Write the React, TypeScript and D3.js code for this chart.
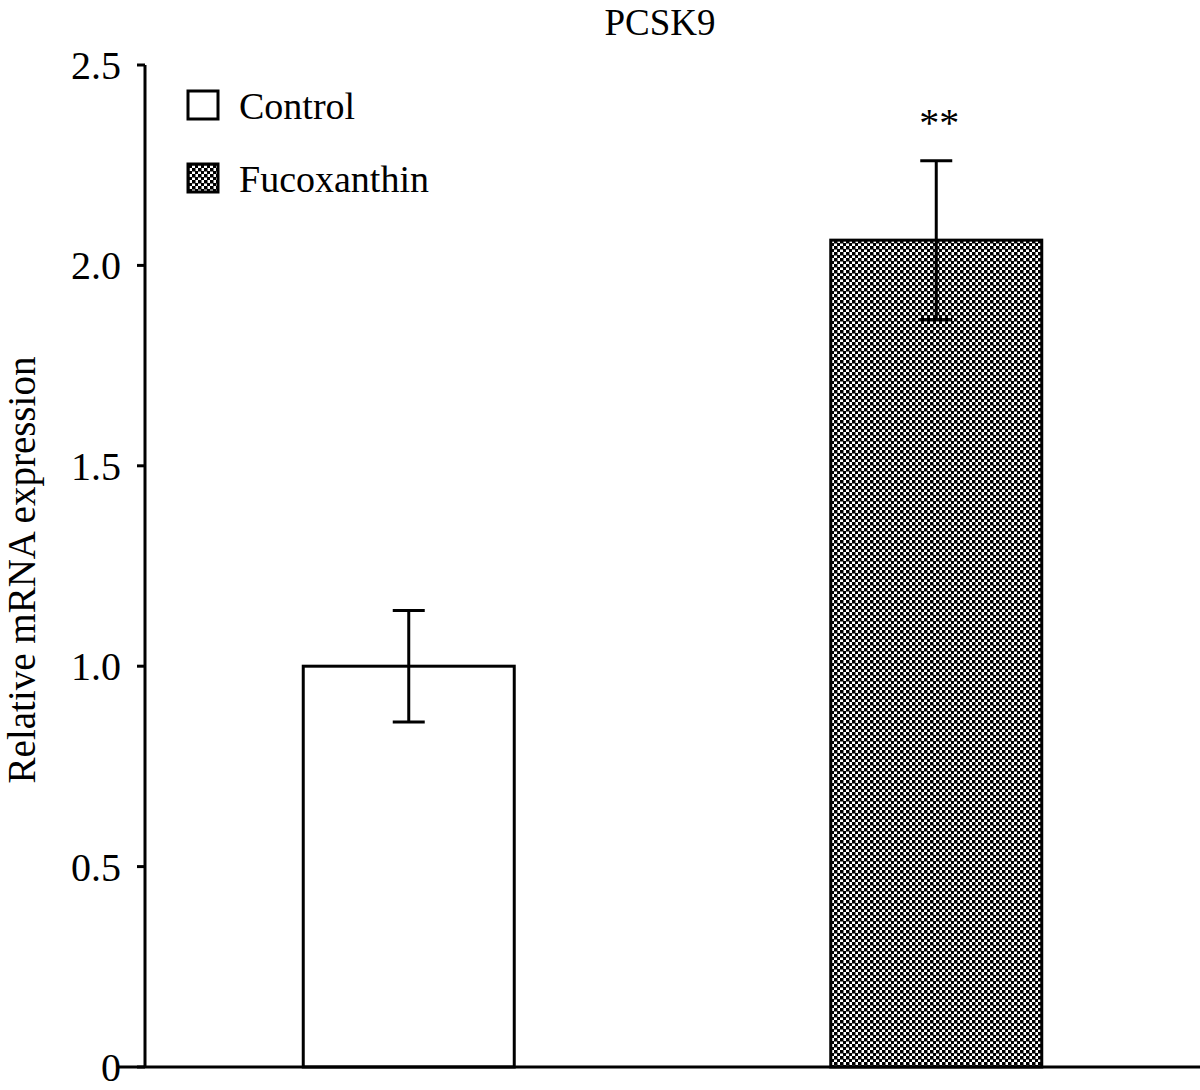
import React from "react";
import * as d3 from "d3";

const categories = ["Control", "Fucoxanthin"];
const values = [1.0, 2.063];
const errors = [0.139, 0.198];
const yTicks = [0, 0.5, 1.0, 1.5, 2.0, 2.5];
const yTickLabels = ["0", "0.5", "1.0", "1.5", "2.0", "2.5"];
const significance = ["", "**"];

export default function App() {
  const W = 1200, H = 1090;
  const y = d3.scaleLinear().domain([0, 2.5]).range([1067, 65]);
  const x = d3.scaleBand().domain(categories).range([145, 1200]).paddingInner(0.6).paddingOuter(0.3);
  const font = "Liberation Serif, Times New Roman, serif";
  const fills = ["#fff", "url(#checker)"];
  return (
    <svg width={W} height={H} style={{ position: "absolute", left: 0, top: 0, background: "#fff" }}>
      <defs>
        <pattern id="checker" width={6} height={6} patternUnits="userSpaceOnUse">
          <rect width={6} height={6} fill="#fff" />
          <rect x={0} y={0} width={3.5} height={3.5} fill="#000" />
          <rect x={3} y={3} width={3.5} height={3.5} fill="#000" />
        </pattern>
      </defs>
      <rect width={W} height={H} fill="#fff" />
      <text x={660} y={35} fontSize={37} textAnchor="middle" style={{ fontFamily: font }}>PCSK9</text>
      <text transform="translate(35,570) rotate(-90)" fontSize={39} textAnchor="middle" style={{ fontFamily: font }}>Relative mRNA expression</text>
      {/* y axis */}
      <line x1={145} x2={145} y1={y(2.5)} y2={y(0)} stroke="#000" strokeWidth={3} />
      {yTicks.map((t, i) => (
        <g key={i}>
          <line x1={137} x2={145} y1={y(t)} y2={y(t)} stroke="#000" strokeWidth={3} />
          <text x={121} y={y(t) + 14} fontSize={40} textAnchor="end" style={{ fontFamily: font }}>{yTickLabels[i]}</text>
        </g>
      ))}
      {/* bars */}
      {categories.map((c, i) => {
        const bx = x(c)!;
        const bw = x.bandwidth();
        const cx = bx + bw / 2;
        return (
          <g key={c}>
            <rect x={bx} y={y(values[i])} width={bw} height={y(0) - y(values[i])} fill={fills[i]} stroke="#000" strokeWidth={3} />
            <line x1={cx} x2={cx} y1={y(values[i] + errors[i])} y2={y(values[i] - errors[i])} stroke="#000" strokeWidth={3} />
            <line x1={cx - 16} x2={cx + 16} y1={y(values[i] + errors[i])} y2={y(values[i] + errors[i])} stroke="#000" strokeWidth={3} />
            <line x1={cx - 16} x2={cx + 16} y1={y(values[i] - errors[i])} y2={y(values[i] - errors[i])} stroke="#000" strokeWidth={3} />
            {significance[i] && (
              <text x={cx + 3} y={y(values[i] + errors[i]) - 25} fontSize={40} textAnchor="middle" style={{ fontFamily: font }}>{significance[i]}</text>
            )}
          </g>
        );
      })}
      {/* x axis */}
      <line x1={118} x2={1200} y1={y(0)} y2={y(0)} stroke="#000" strokeWidth={3} />
      {/* legend */}
      {categories.map((c, i) => (
        <g key={"lg" + c}>
          <rect x={188} y={91 + i * 73} width={30} height={28} fill={fills[i]} stroke="#000" strokeWidth={3} />
          <text x={239} y={119 + i * 73} fontSize={38} style={{ fontFamily: font }}>{c}</text>
        </g>
      ))}
    </svg>
  );
}
